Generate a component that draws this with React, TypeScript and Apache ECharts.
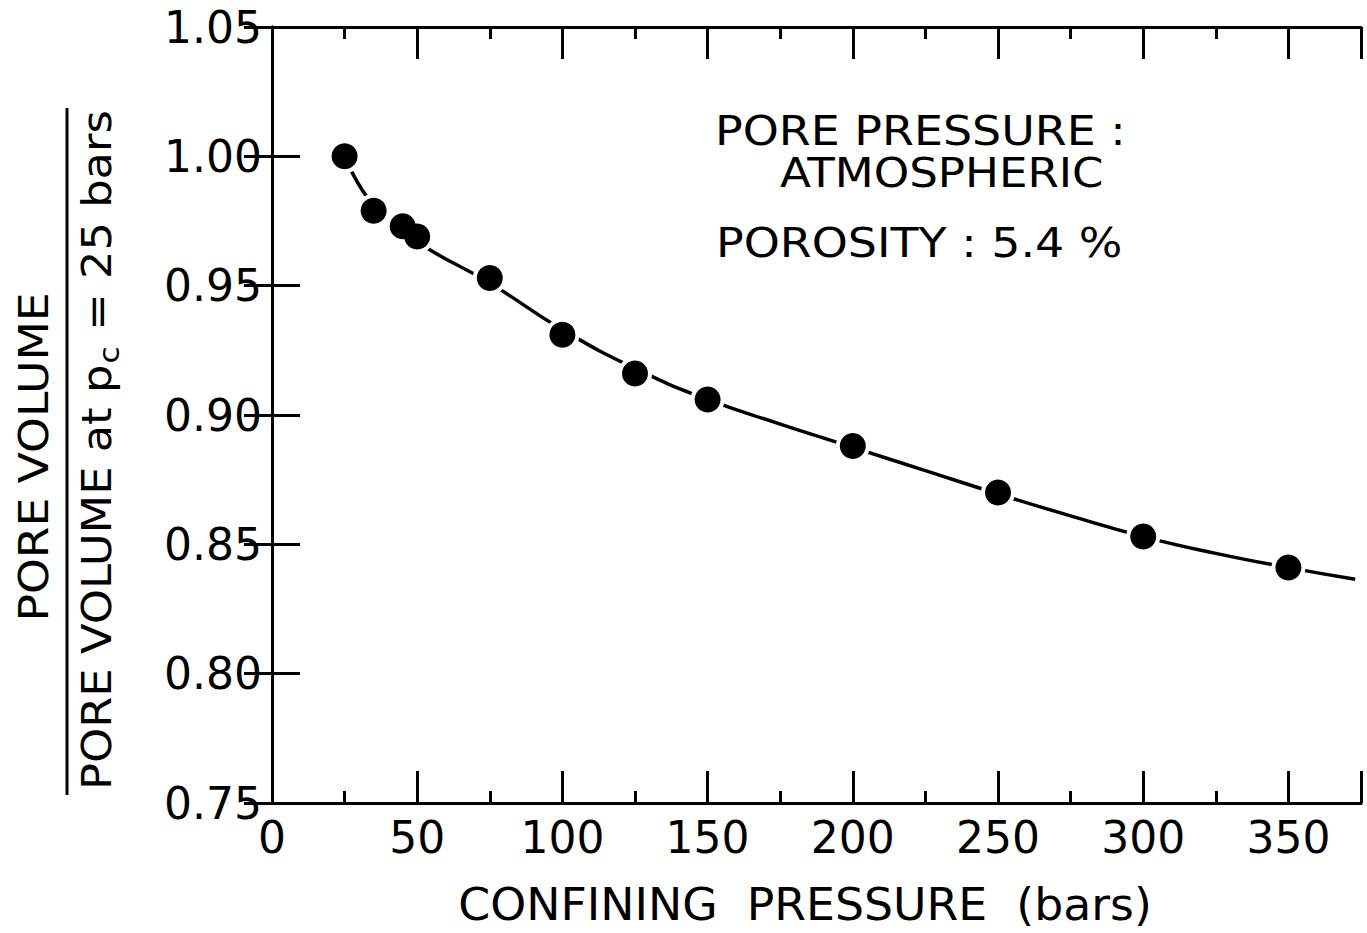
import React, { useEffect, useRef } from "react";
import * as echarts from "echarts";

// Measured points
const pressure = [25, 35, 45, 50, 75, 100, 125, 150, 200, 250, 300, 350];
const poreVolumeRatio = [1.0, 0.979, 0.973, 0.969, 0.953, 0.931, 0.916, 0.906, 0.888, 0.87, 0.853, 0.841];

// Hand-drawn fitted curve
const curvePressure = [25, 35, 50, 75, 100, 125, 150, 175, 200, 225, 250, 275, 300, 325, 350, 373];
const curveRatio = [1.0, 0.981, 0.967, 0.951, 0.933, 0.918, 0.906, 0.8965, 0.8875, 0.8785, 0.8695, 0.861, 0.853, 0.8465, 0.841, 0.8365];

const xTitle = "CONFINING  PRESSURE  (bars)";
const yNumerator = "PORE VOLUME";
const yDenomA = "PORE VOLUME at p";
const yDenomSub = "c";
const yDenomB = " = 25 bars";
const note1 = "PORE PRESSURE :";
const note2 = "ATMOSPHERIC";
const note3 = "POROSITY : 5.4 %";

const FF = '"DejaVu Sans", sans-serif';

function measure(text: string, size: number): number {
  const c = document.createElement("canvas").getContext("2d");
  if (!c) return text.length * size * 0.6;
  c.font = `${size}px "DejaVu Sans"`;
  return c.measureText(text).width;
}

export default function App() {
  const ref = useRef<HTMLDivElement>(null);
  useEffect(() => {
    if (!ref.current) return;
    const chart = echarts.init(ref.current, undefined, { renderer: "svg" });
    const axisLine = { show: true, lineStyle: { color: "#000", width: 3 } };
    const labelStyle = { color: "#000", fontSize: 44, fontFamily: FF };

    const yLabelSize = 40;
    const wA = measure(yDenomA, yLabelSize);
    const wSub = measure(yDenomSub, 28);
    const noteFont = `41px ${FF}`;

    const xBase = {
      type: "value" as const,
      min: 0,
      max: 375,
      interval: 50,
      axisLine,
      axisTick: { show: true, inside: true, length: 32, lineStyle: { color: "#000", width: 3 } },
      minorTick: { show: true, splitNumber: 2, length: 12, lineStyle: { color: "#000", width: 3 } },
      splitLine: { show: false },
      minorSplitLine: { show: false },
    };
    const yBase = {
      type: "value" as const,
      min: 0.75,
      max: 1.05,
      interval: 0.05,
      axisLine,
      axisTick: { show: true, inside: true, length: 28, lineStyle: { color: "#000", width: 3 } },
      splitLine: { show: false },
    };

    chart.setOption({
      animation: false,
      backgroundColor: "#fff",
      grid: { left: 272, right: 6, top: 27, bottom: 130, containLabel: false },
      xAxis: [
        {
          ...xBase,
          position: "bottom",
          axisLabel: { ...labelStyle, margin: 12, showMaxLabel: false },
        },
        { ...xBase, position: "top", axisLabel: { show: false } },
      ],
      yAxis: [
        {
          ...yBase,
          position: "left",
          axisLabel: { ...labelStyle, margin: 10, formatter: (v: number) => v.toFixed(2) },
        },
        { ...yBase, position: "right", axisLabel: { show: false } },
      ],
      series: [
        {
          type: "line",
          xAxisIndex: 0,
          yAxisIndex: 0,
          data: curvePressure.map((x, i) => [x, curveRatio[i]]),
          smooth: 0.5,
          showSymbol: false,
          lineStyle: { color: "#000", width: 3.5 },
          silent: true,
          z: 2,
        },
        {
          type: "scatter",
          xAxisIndex: 0,
          yAxisIndex: 0,
          data: pressure.map((x, i) => [x, poreVolumeRatio[i]]),
          symbolSize: 34,
          itemStyle: { color: "#fff", opacity: 1 },
          silent: true,
          z: 3,
        },
        {
          type: "scatter",
          xAxisIndex: 0,
          yAxisIndex: 0,
          data: pressure.map((x, i) => [x, poreVolumeRatio[i]]),
          symbolSize: 26,
          itemStyle: { color: "#000", opacity: 1 },
          silent: true,
          z: 4,
        },
      ],
      graphic: [
        {
          type: "text",
          x: 805,
          y: 905,
          scaleX: 1.04,
          style: { text: xTitle, font: `44px ${FF}`, fill: "#000", align: "center", verticalAlign: "middle" },
        },
        {
          type: "text",
          x: 715,
          y: 131,
          scaleX: 1.12,
          style: { text: note1, font: noteFont, fill: "#000", align: "left", verticalAlign: "middle" },
        },
        {
          type: "text",
          x: 780,
          y: 173,
          scaleX: 1.1,
          style: { text: note2, font: noteFont, fill: "#000", align: "left", verticalAlign: "middle" },
        },
        {
          type: "text",
          x: 716,
          y: 243,
          scaleX: 1.12,
          style: { text: note3, font: noteFont, fill: "#000", align: "left", verticalAlign: "middle" },
        },
        {
          type: "text",
          x: 34,
          y: 457,
          rotation: Math.PI / 2,
          scaleX: 1.14,
          style: {
            text: yNumerator,
            font: `${yLabelSize}px ${FF}`,
            fill: "#000",
            align: "center",
            verticalAlign: "middle",
          },
        },
        {
          type: "line",
          shape: { x1: 67, y1: 108, x2: 67, y2: 795 },
          style: { stroke: "#000", lineWidth: 3 },
        },
        {
          type: "group",
          x: 97,
          y: 790,
          rotation: Math.PI / 2,
          scaleX: 1.12,
          children: [
            {
              type: "text",
              x: 0,
              y: 0,
              style: { text: yDenomA, font: `${yLabelSize}px ${FF}`, fill: "#000", align: "left", verticalAlign: "middle" },
            },
            {
              type: "text",
              x: wA + 1,
              y: 12,
              style: { text: yDenomSub, font: `28px ${FF}`, fill: "#000", align: "left", verticalAlign: "middle" },
            },
            {
              type: "text",
              x: wA + wSub + 2,
              y: 0,
              style: { text: yDenomB, font: `${yLabelSize}px ${FF}`, fill: "#000", align: "left", verticalAlign: "middle" },
            },
          ],
        },
      ],
    });
    return () => chart.dispose();
  }, []);
  return (
    <div
      ref={ref}
      style={{ position: "fixed", left: 0, top: 0, width: 1367, height: 933, background: "#fff" }}
    />
  );
}
